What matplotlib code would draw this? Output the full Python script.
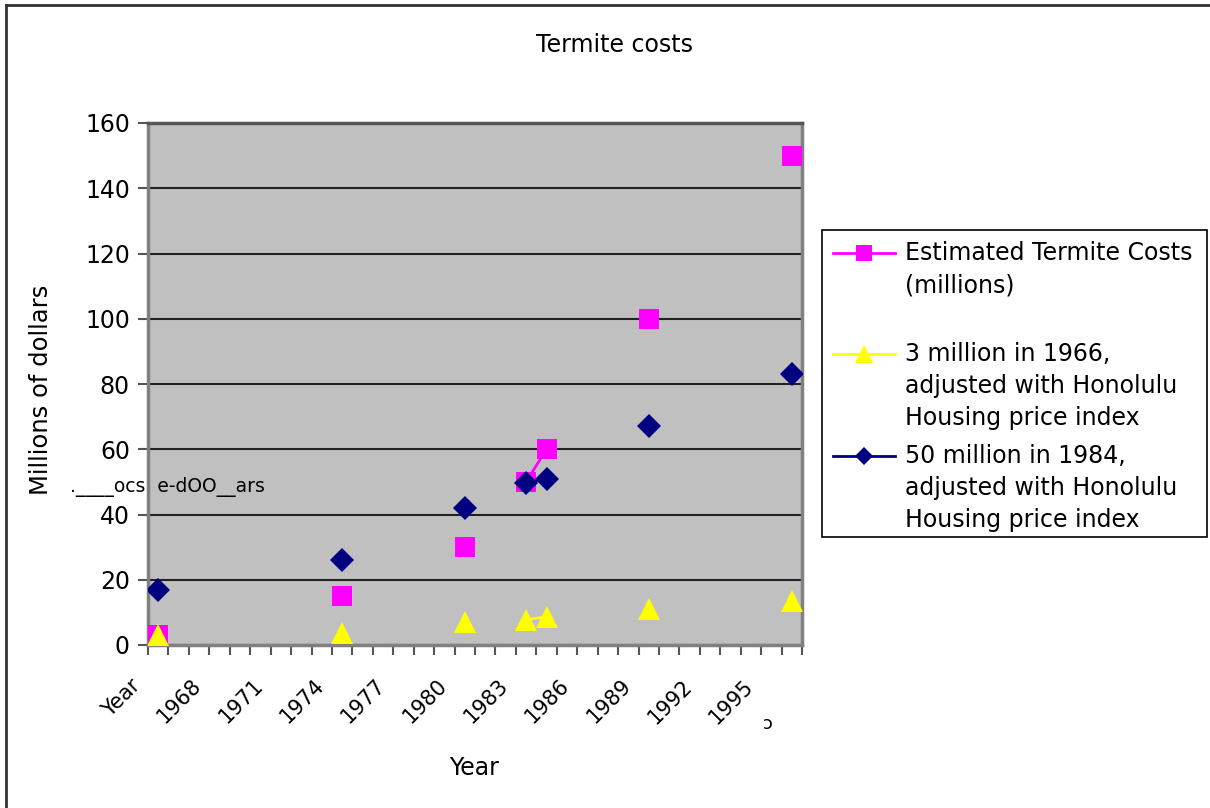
import numpy as np
import matplotlib
matplotlib.use("Agg")
import matplotlib.pyplot as plt
from matplotlib.lines import Line2D
from matplotlib.patches import Rectangle
import matplotlib.transforms as mtransforms

# category axis: header row "Year" followed by the years
categories = ["Year"] + [str(y) for y in range(1966, 1997)]
shown_labels = categories[::3]

# categories that carry data, and the three series
point_cats = ["Year", "1974", "1980", "1983", "1984", "1989", "1996"]
estimated = [3, 15, 30, 50, 60, 100, 150]
adj_1966 = [3, 3.7, 7.0, 7.8, 8.6, 11, 13.5]
adj_1984 = [17, 26, 42, 49.6, 51, 67, 83]

W, H = 1210, 808


def px(x, y):
    return x / W, 1 - y / H


def full(vals):
    out = np.full(len(categories), np.nan)
    for c, v in zip(point_cats, vals):
        out[categories.index(c)] = v
    return out


fig = plt.figure(figsize=(W / 100, H / 100), dpi=100)
fig.patch.set_facecolor("white")

x0, y0 = px(148, 645)
x1, y1 = px(802, 123)
ax = fig.add_axes([x0, y0, x1 - x0, y1 - y0])
ax.set_facecolor("#C0C0C0")

xs = np.arange(len(categories))
pink, yellow, navy = "#FF00FF", "#FFFF00", "#000080"

ax.plot(xs, full(estimated), color=pink, lw=2, marker="s", ms=15,
        mec=pink, mew=0, zorder=3)
ax.plot(xs, full(adj_1966), color=yellow, lw=2, marker="^", ms=16.5,
        mec=yellow, mew=0, zorder=3)
ax.plot(xs, full(adj_1984), color=navy, lw=2, marker="D", ms=12,
        mec=navy, mew=0, zorder=4)

ax.set_xlim(-0.5, len(categories) - 0.5)
ax.set_ylim(0, 160)
ax.set_yticks(np.arange(0, 161, 20))
ax.yaxis.grid(True, color="#222222", lw=1.5)
ax.set_axisbelow(True)

ax.set_xticks(xs[::3])
ax.set_xticklabels(shown_labels, rotation=45, ha="right", va="top",
                   fontsize=15)
ax.set_xticks(np.arange(-0.5, len(categories)), minor=True)
ax.tick_params(axis="x", which="major", length=0, pad=22)
ax.tick_params(axis="x", which="minor", length=7, width=1.5, color="#555555")
ax.tick_params(axis="y", length=7, width=1.5, color="#555555",
               labelsize=17, pad=6)
off = mtransforms.ScaledTranslation(-0.14, 0, fig.dpi_scale_trans)
for lbl in ax.get_xticklabels():
    lbl.set_transform(lbl.get_transform() + off)

for s in ax.spines.values():
    s.set_color("#808080")
    s.set_linewidth(2.5)
ax.spines["top"].set_color("#555555")

ax.set_ylabel("Millions of dollars", fontsize=17.5)
ax.yaxis.set_label_coords(-0.145, 0.489)
ax.set_xlabel("Year", fontsize=17)
ax.xaxis.set_label_coords(0.498, -0.213)

fig.text(*px(614, 45), "Termite costs", fontsize=17, ha="center",
         va="center")

# stray glyphs left over in the original export
fig.text(*px(70, 487), ".____ocs  e-dOO__ars", fontsize=13.5, va="center",
         color="black")
fig.text(*px(768, 724), "\u0254", fontsize=13, va="center", ha="center")

# outer frame (top and left edges visible)
fig.add_artist(Line2D([6 / W, 1], [1 - 5 / H] * 2, color="#333333", lw=2,
                      transform=fig.transFigure))
fig.add_artist(Line2D([6 / W] * 2, [0, 1 - 5 / H], color="#333333", lw=2,
                      transform=fig.transFigure))

# legend box drawn by hand so the swatch sits on the first text line
lx0, ly0 = px(822, 537)
lx1, ly1 = px(1207, 230)
fig.add_artist(Rectangle((lx0, ly0), lx1 - lx0, ly1 - ly0, fill=False,
                         ec="black", lw=1.2, transform=fig.transFigure))
legend_items = [
    (["Estimated Termite Costs", "(millions)"], pink, "s", 12, 253),
    (["3 million in 1966,", "adjusted with Honolulu", "Housing price index"],
     yellow, "^", 13, 354),
    (["50 million in 1984,", "adjusted with Honolulu", "Housing price index"],
     navy, "D", 9.5, 456),
]
for lines, col, mk, ms, ty in legend_items:
    a, b = px(833, ty)
    c, _ = px(895, ty)
    fig.add_artist(Line2D([a, c], [b, b], color=col, lw=2,
                          transform=fig.transFigure))
    fig.add_artist(Line2D([(a + c) / 2], [b], color=col, marker=mk, ms=ms,
                          mew=0, transform=fig.transFigure))
    for i, line in enumerate(lines):
        fig.text(*px(905, ty + 32 * i), line, fontsize=17, va="center",
                 ha="left")

fig.savefig("out.png", dpi=100)
